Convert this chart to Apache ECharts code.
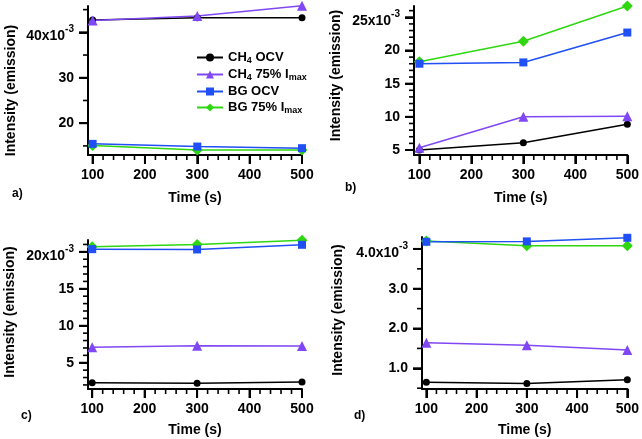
<!DOCTYPE html>
<html><head><meta charset="utf-8">
<script src="https://cdn.jsdelivr.net/npm/echarts@6/dist/echarts.min.js"></script>
<style>html,body{margin:0;padding:0;background:#fff}#c{width:642px;height:439px}</style>
</head><body><div id="c"></div>
<script>
// ---------- data (intensity values in units of 1e-3) ----------
const times = [100, 300, 500];
const seriesNames = ['CH4 OCV', 'CH4 75% Imax', 'BG OCV', 'BG 75% Imax'];

// panel a
const aCH4OCV  = [42.7, 43.2, 43.2];
const aCH4Imax = [42.6, 43.6, 45.85];
const aBGOCV   = [15.45, 14.86, 14.5];
const aBGImax  = [15.1, 14.1, 14.1];
// panel b
const bCH4OCV  = [5.0, 6.1, 8.9];
const bCH4Imax = [5.35, 10.0, 10.1];
const bBGOCV   = [18.0, 18.2, 22.7];
const bBGImax  = [18.3, 21.4, 26.7];
// panel c
const cCH4OCV  = [2.3, 2.22, 2.39];
const cCH4Imax = [7.08, 7.3, 7.26];
const cBGOCV   = [20.36, 20.32, 20.95];
const cBGImax  = [20.68, 21.0, 21.58];
// panel d
const dCH4OCV  = [0.65, 0.62, 0.71];
const dCH4Imax = [1.64, 1.58, 1.46];
const dBGOCV   = [4.18, 4.19, 4.28];
const dBGImax  = [4.2, 4.08, 4.08];

// tick labels (major) and minor tick values
const xMajor = [100, 200, 300, 400, 500];
const xMinor = [120, 140, 160, 180, 220, 240, 260, 280, 320, 340, 360, 380, 420, 440, 460, 480];
const aYMajor = [20, 30, 40];
const aYMinor = [15, 25, 35, 45];
const bYMajor = [5, 10, 15, 20, 25];
const bYMinor = [6, 7, 8, 9, 11, 12, 13, 14, 16, 17, 18, 19, 21, 22, 23, 24, 26];
const cYMajor = [5, 10, 15, 20];
const cYMinor = [2, 3, 4, 6, 7, 8, 9, 11, 12, 13, 14, 16, 17, 18, 19, 21];
const dYMajor = [1.0, 2.0, 3.0, 4.0];
const dYMinor = [0.5, 1.5, 2.5, 3.5];
const panelLabels = ['a)', 'b)', 'c)', 'd)'];

// ---------- styling ----------
const FONT = 'Liberation Sans, Arial, Helvetica, sans-serif';
const colors = {'CH4 OCV': '#000000', 'CH4 75% Imax': '#8047f5', 'BG OCV': '#1f4ff5', 'BG 75% Imax': '#2fd710'};
const symbols = {'CH4 OCV': ['circle', 7], 'CH4 75% Imax': ['triangle', 10], 'BG OCV': ['rect', 8], 'BG 75% Imax': ['diamond', 11]};

const panels = [
  {grid: {left: 88, top: 6, width: 214, height: 149}, x: [91.2, 500], y: [13.0, 45.8],
   yMajor: aYMajor, yMinor: aYMinor, dec: 0, nameGap: 70, namePad: [0, 20, 0, 0], xGap: 36,
   data: [aCH4OCV, aCH4Imax, aBGOCV, aBGImax]},
  {grid: {left: 414, top: 6, width: 215, height: 149}, x: [89.6, 500], y: [4.25, 26.7],
   yMajor: bYMajor, yMinor: bYMinor, dec: 0, nameGap: 71, namePad: [0, 0, 0, 10], xGap: 36,
   data: [bCH4OCV, bCH4Imax, bBGOCV, bBGImax]},
  {grid: {left: 88, top: 240, width: 214, height: 149}, x: [92.0, 500], y: [1.45, 21.6],
   yMajor: cYMajor, yMinor: cYMinor, dec: 0, nameGap: 71, namePad: [0, 0, 0, 5], xGap: 34,
   data: [cCH4OCV, cCH4Imax, cBGOCV, cBGImax]},
  {grid: {left: 422, top: 237, width: 207, height: 152}, x: [91.3, 500], y: [0.48, 4.3],
   yMajor: dYMajor, yMinor: dYMinor, dec: 1, nameGap: 77, namePad: [0, 0, 0, 6], xGap: 34,
   data: [dCH4OCV, dCH4Imax, dBGOCV, dBGImax]}
];

const labelRich = {
  t: {fontFamily: FONT, fontSize: 14, fontWeight: 'bold', color: '#000'},
  tb: {fontFamily: FONT, fontSize: 14, fontWeight: 'bold', color: '#000', padding: [8, 0, 0, 0]},
  sup: {fontFamily: FONT, fontSize: 10, fontWeight: 'bold', color: '#000', padding: [0, 0, 6, 0]}
};

const grids = [], xAxes = [], yAxes = [], series = [], titles = [];
panels.forEach((p, i) => {
  grids.push(p.grid);
  const topMajor = p.yMajor[p.yMajor.length - 1];
  xAxes.push({
    type: 'value', gridIndex: i, min: p.x[0], max: p.x[1],
    name: 'Time (s)', nameLocation: 'middle', nameGap: p.xGap,
    nameTextStyle: {fontFamily: FONT, fontSize: 14, fontWeight: 'bold', color: '#000'},
    axisLine: {show: true, lineStyle: {color: '#000', width: 2}},
    axisTick: {show: true, length: 9, lineStyle: {color: '#000', width: 2}, customValues: xMajor},
    axisLabel: {show: true, margin: 13, fontFamily: FONT, fontSize: 14, fontWeight: 'bold', color: '#000',
      customValues: xMajor, formatter: v => String(v)},
    splitLine: {show: false}
  });
  yAxes.push({
    type: 'value', gridIndex: i, min: p.y[0], max: p.y[1],
    name: 'Intensity (emission)', nameLocation: 'middle', nameGap: p.nameGap,
    nameTextStyle: {fontFamily: FONT, fontSize: 14, fontWeight: 'bold', color: '#000', padding: p.namePad},
    axisLine: {show: true, lineStyle: {color: '#000', width: 2}},
    axisTick: {show: true, length: 9, lineStyle: {color: '#000', width: 2}, customValues: p.yMajor},
    axisLabel: {show: true, margin: 14, customValues: p.yMajor, rich: labelRich,
      formatter: v => {
        const s = Number(v).toFixed(p.dec);
        if (Math.abs(v - topMajor) < 1e-9) return '{tb|' + s + 'x10}{sup|-3}';
        return '{t|' + s + '}';
      }},
    splitLine: {show: false}
  });
  // series, drawn in order green, blue, black, purple
  [3, 2, 0, 1].forEach(k => {
    const name = seriesNames[k];
    series.push({
      name: name, type: 'line', xAxisIndex: i, yAxisIndex: i,
      data: times.map((t, j) => [t, p.data[k][j]]),
      symbol: symbols[name][0], symbolSize: symbols[name][1], showSymbol: true,
      clip: false, animation: false, z: 3,
      itemStyle: {color: colors[name]},
      lineStyle: {color: colors[name], width: 1.5}
    });
  });
});

titles.push({text: panelLabels[0], left: 12, top: 188});
titles.push({text: panelLabels[1], left: 345, top: 182});
titles.push({text: panelLabels[2], left: 21, top: 410});
titles.push({text: panelLabels[3], left: 354, top: 410});
titles.forEach(t => { t.padding = 0; t.textStyle = {fontFamily: FONT, fontSize: 12, fontWeight: 'bold', color: '#000'}; });

const legendRich = {
  t: {fontFamily: FONT, fontSize: 13, fontWeight: 'bold', color: '#000'},
  s: {fontFamily: FONT, fontSize: 9, fontWeight: 'bold', color: '#000', padding: [6, 0, 0, 0]}
};
const legendFmt = {
  'CH4 OCV': '{t|CH}{s|4}{t| OCV}',
  'CH4 75% Imax': '{t|CH}{s|4}{t| 75% I}{s|max}',
  'BG OCV': '{t|BG OCV}',
  'BG 75% Imax': '{t|BG 75% I}{s|max}'
};

const chart = echarts.init(document.getElementById('c'), null, {renderer: 'canvas'});
chart.setOption({
  animation: false,
  backgroundColor: '#ffffff',
  title: titles,
  grid: grids,
  xAxis: xAxes,
  yAxis: yAxes,
  legend: {
    data: seriesNames, left: 196, top: 51, orient: 'vertical',
    itemWidth: 26, itemHeight: 10, itemGap: 3, selectedMode: false, padding: 0,
    formatter: n => legendFmt[n],
    textStyle: {fontFamily: FONT, fontSize: 13, fontWeight: 'bold', color: '#000', rich: legendRich}
  },
  series: series
});

// tick marks: positions obtained from the axes' own scales (convertToPixel)
const tickEls = [];
function tick(x1, y1, x2, y2, w) {
  tickEls.push({type: 'line', silent: true, z: 100,
    shape: {x1: x1, y1: y1, x2: x2, y2: y2}, style: {stroke: '#000', lineWidth: w}});
}
panels.forEach((p, i) => {
  const finder = {xAxisIndex: i, yAxisIndex: i};
  xMajor.concat(xMinor).forEach(v => {
    const major = xMajor.indexOf(v) >= 0;
    const pt = chart.convertToPixel(finder, [v, p.y[0]]);
    if (pt) tick(pt[0], pt[1], pt[0], pt[1] + (major ? 9 : 5), major ? 2 : 1.6);
  });
  p.yMajor.concat(p.yMinor).forEach(v => {
    const major = p.yMajor.indexOf(v) >= 0;
    const pt = chart.convertToPixel(finder, [p.x[0], v]);
    if (pt) tick(pt[0], pt[1], pt[0] - (major ? 9 : 5), pt[1], major ? 2 : 1.6);
  });
});
chart.setOption({graphic: {elements: tickEls}});
</script>
</body></html>
